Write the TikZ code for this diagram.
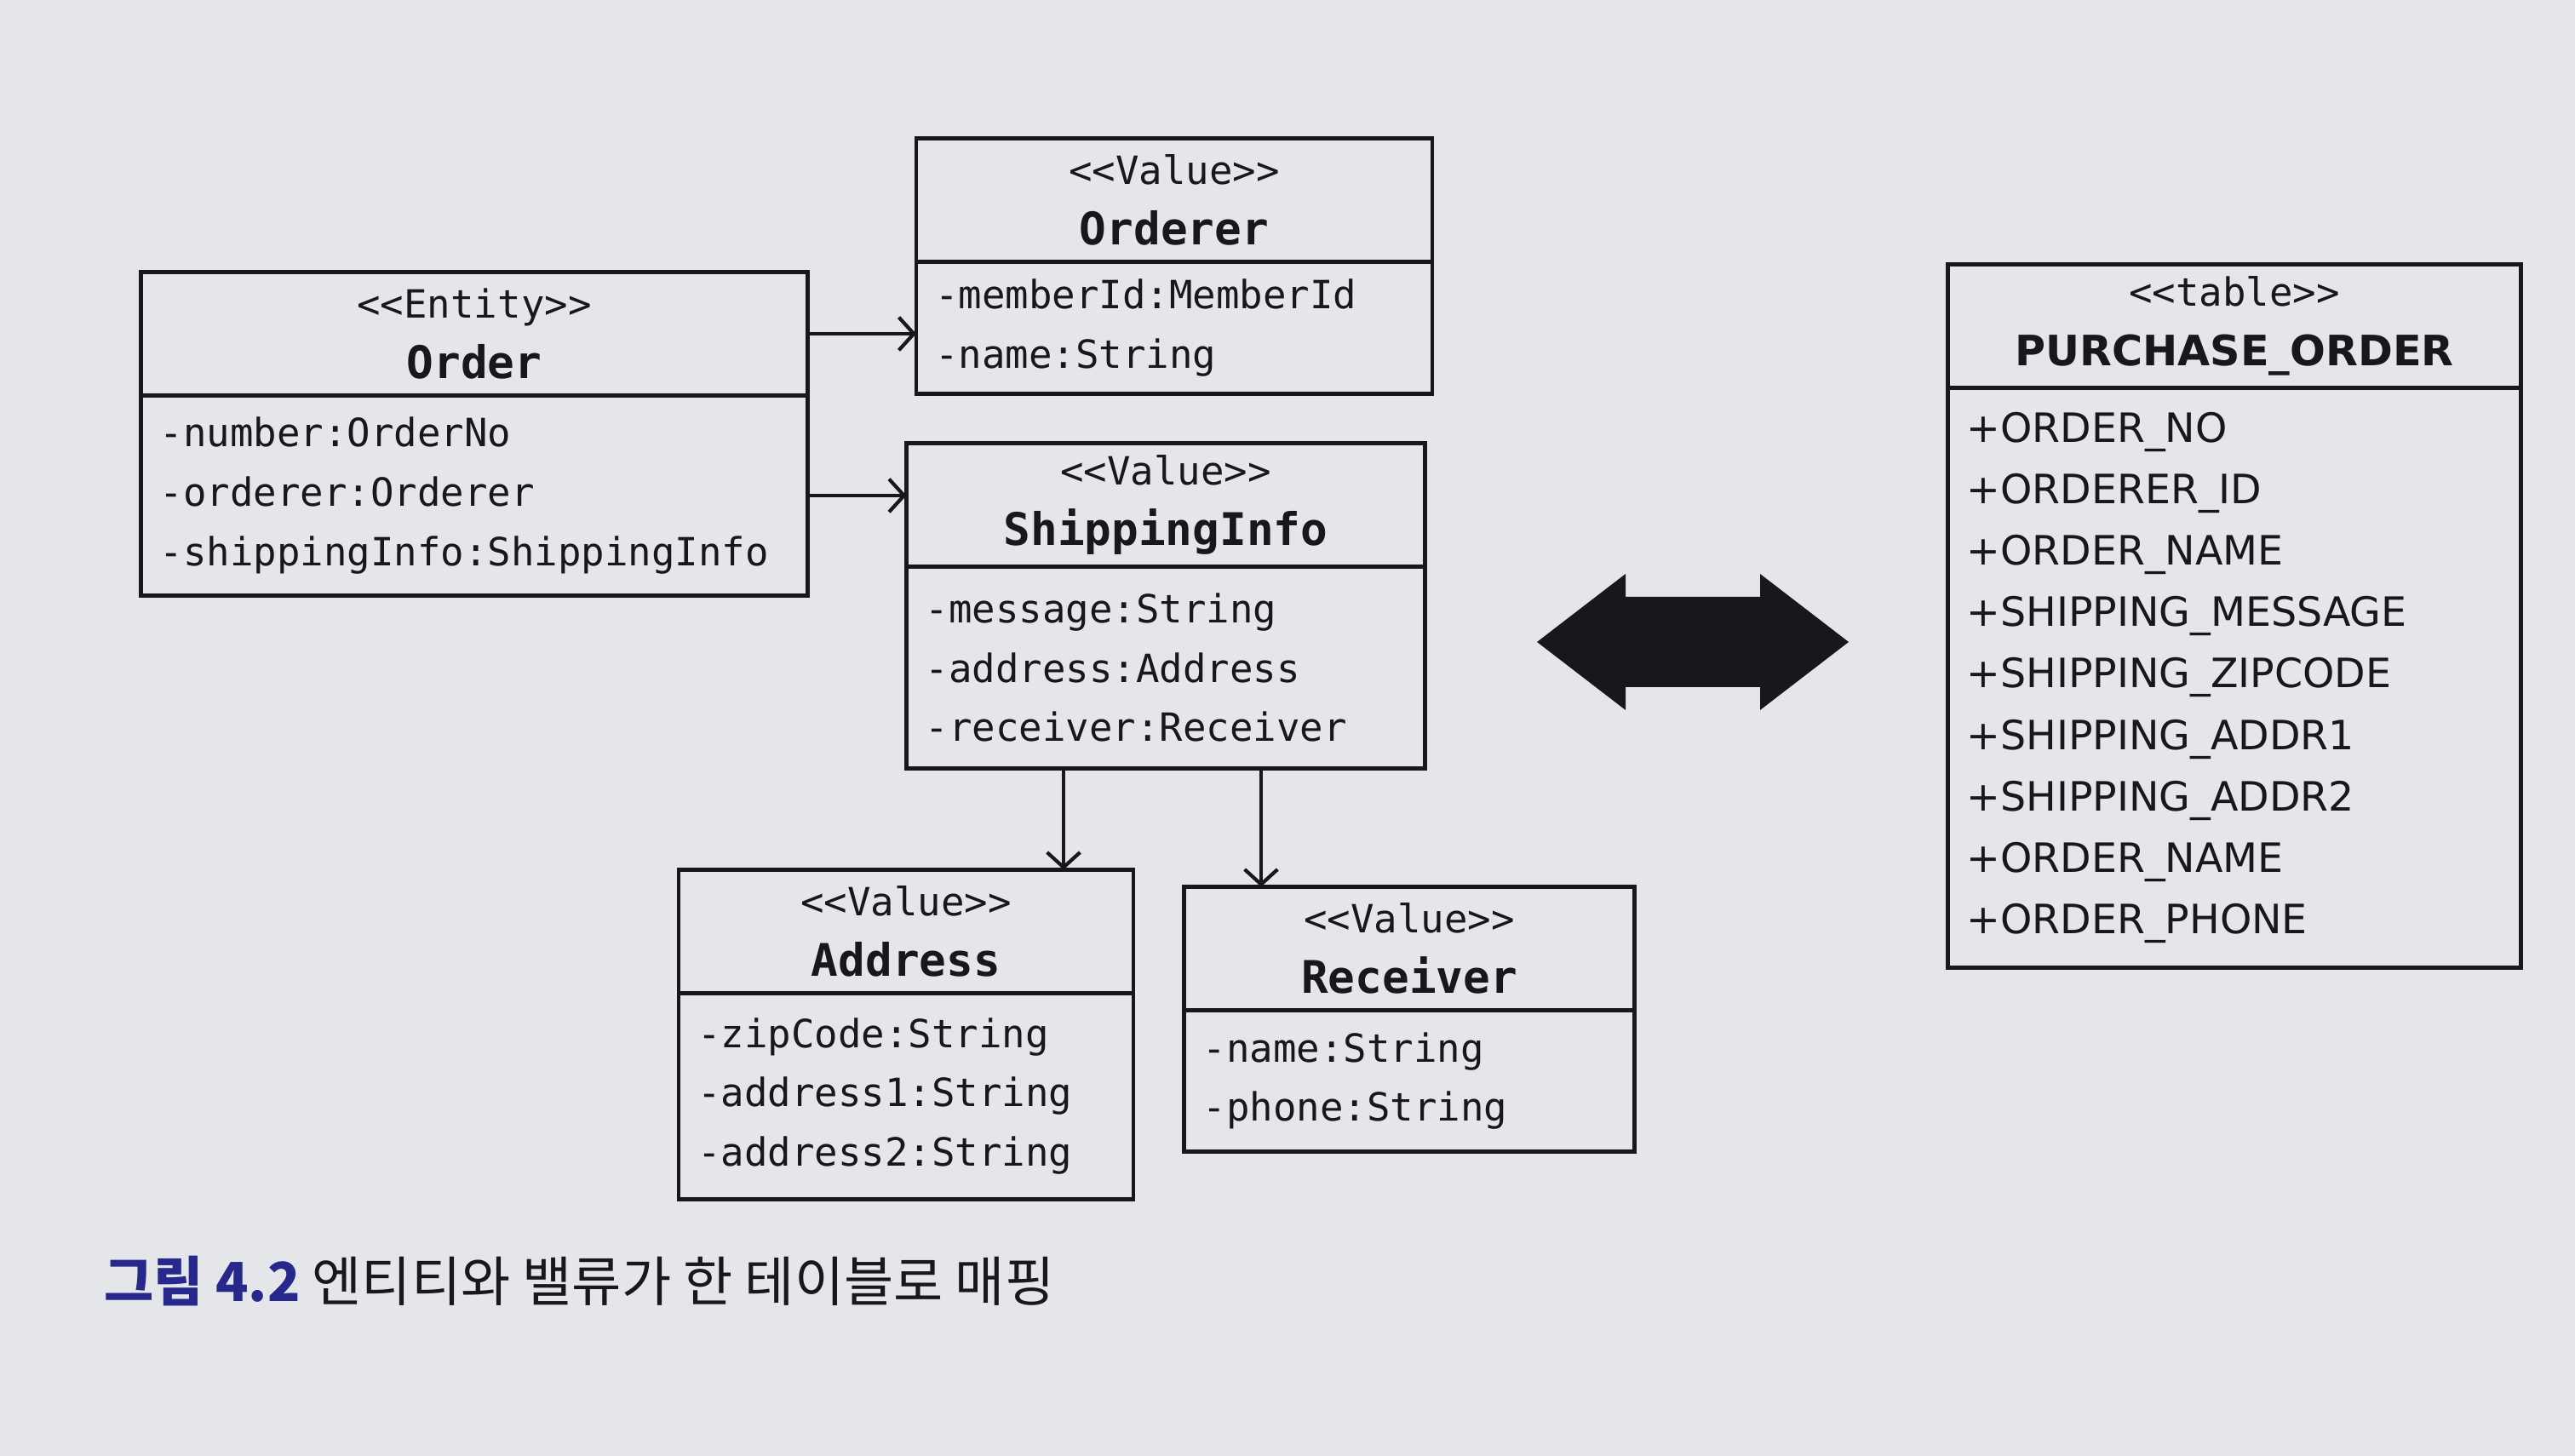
\documentclass[tikz,border=0pt]{standalone}
\usepackage{fontspec}
\setmainfont{DejaVu Sans}
\newfontfamily\codefont{DejaVu Sans Mono}
\newfontfamily\hangul{Noto Sans CJK KR}
\usetikzlibrary{positioning,arrows.meta}

\definecolor{paper}{RGB}{228,230,234}
\definecolor{ink}{RGB}{24,24,28}
\definecolor{figblue}{RGB}{38,40,140}

\newcommand{\stereo}[1]{{\codefont\fontsize{13}{20}\selectfont <{}<#1>{}>}}
\newcommand{\cname}[1]{{\codefont\bfseries\fontsize{15}{20}\selectfont #1}}

\tikzset{
  head/.style={draw=ink, line width=1.2pt, text=ink, minimum width=#1,
    minimum height=1.45cm, inner sep=0pt, outer sep=0pt, align=center,
    font={\fontsize{13}{20}\selectfont}},
  members/.style={draw=ink, line width=1.2pt, text=ink, text width=#1,
    inner xsep=0.22cm, inner ysep=0pt, outer sep=0pt, align=left,
    font={\codefont\fontsize{13}{19.8}\selectfont}},
  columns/.style={members=#1, font={\fontsize{13.5}{20.5}\selectfont}},
  link/.style={draw=ink, line width=1.2pt,
    -{Straight Barb[length=5pt,width=11pt,line width=1.2pt]}},
}

\begin{document}
\begin{tikzpicture}
  \fill[paper] (0,0) rectangle (30.24,17.1);
  \useasboundingbox (0,0) rectangle (30.24,17.1);

  \node[head=7.83cm] (orderhead) at (5.57,13.18) {\stereo{Entity}\\\cname{Order}};
  \node[members=7.39cm, minimum height=2.35cm, below=0pt of orderhead] (orderbody)
    {-number:OrderNo\\-orderer:Orderer\\-shippingInfo:ShippingInfo};

  \node[head=6.06cm] (ordererhead) at (13.79,14.75) {\stereo{Value}\\\cname{Orderer}};
  \node[members=5.62cm, minimum height=1.55cm, below=0pt of ordererhead] (ordererbody)
    {-memberId:MemberId\\-name:String};

  \node[head=6.09cm] (shiphead) at (13.69,11.17) {\stereo{Value}\\\cname{ShippingInfo}};
  \node[members=5.65cm, minimum height=2.37cm, below=0pt of shiphead] (shipbody)
    {-message:String\\-address:Address\\-receiver:Receiver};

  \node[head=5.34cm] (addrhead) at (10.64,6.16) {\stereo{Value}\\\cname{Address}};
  \node[members=4.90cm, minimum height=2.42cm, below=0pt of addrhead] (addrbody)
    {-zipCode:String\\-address1:String\\-address2:String};

  \node[head=5.29cm] (recvhead) at (16.55,5.96) {\stereo{Value}\\\cname{Receiver}};
  \node[members=4.85cm, minimum height=1.66cm, below=0pt of recvhead] (recvbody)
    {-name:String\\-phone:String};

  \node[head=6.73cm] (tablehead) at (26.24,13.27)
    {\stereo{table}\\{\bfseries\fontsize{14}{20}\selectfont PURCHASE\_ORDER}};
  \node[columns=6.29cm, minimum height=6.81cm, below=0pt of tablehead] (tablebody)
    {+ORDER\_NO\\+ORDERER\_ID\\+ORDER\_NAME\\+SHIPPING\_MESSAGE\\+SHIPPING\_ZIPCODE\\
     +SHIPPING\_ADDR1\\+SHIPPING\_ADDR2\\+ORDER\_NAME\\+ORDER\_PHONE};

  \coordinate (swap) at (19.88,9.56);
  \fill[ink] (swap) ++(-1.83,0) -- ++(1.04,0.80) -- ++(0,-0.27) -- ++(1.58,0)
    -- ++(0,0.27) -- ++(1.04,-0.80) -- ++(-1.04,-0.80) -- ++(0,0.27)
    -- ++(-1.58,0) -- ++(0,-0.27) -- cycle;

  \node[anchor=west, text=ink, font={\hangul\fontsize{18}{21}\selectfont}] (caption) at (1.10,2.05)
    {{\color{figblue}\bfseries 그림 4.2} 엔티티와 밸류가 한 테이블로 매핑};

  \draw[link] (orderhead.east) -- (orderhead.east -| ordererbody.west);
  \draw[link] (orderbody.east) -- (orderbody.east -| shiphead.west);
  \draw[link] ([xshift=-1.2cm]shipbody.south) coordinate (s1) -- (s1 |- addrhead.north);
  \draw[link] ([xshift=1.12cm]shipbody.south) coordinate (s2) -- (s2 |- recvhead.north);
\end{tikzpicture}
\end{document}
